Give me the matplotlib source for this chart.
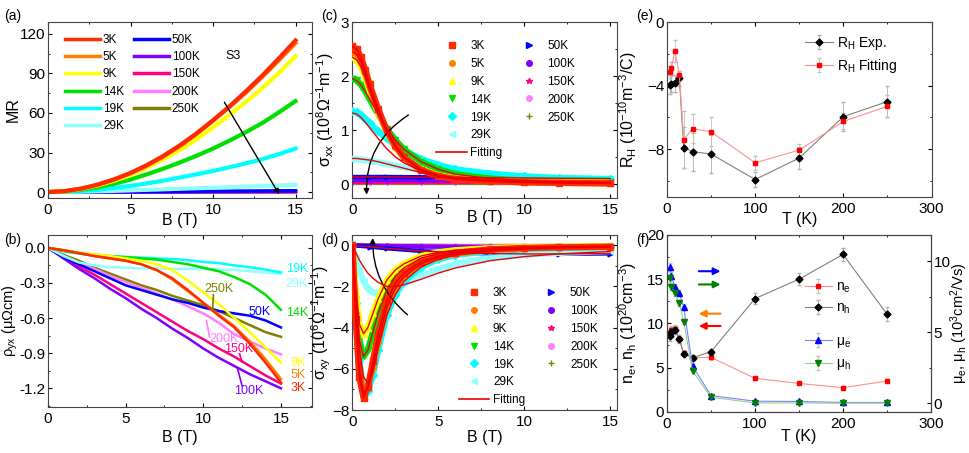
import numpy as np
import matplotlib
matplotlib.use('Agg')
import matplotlib.pyplot as plt
from matplotlib.lines import Line2D
from matplotlib.ticker import MultipleLocator

plt.rcParams['font.family'] = ['Liberation Sans', 'DejaVu Sans']
plt.rcParams['mathtext.fontset'] = 'custom'
plt.rcParams['mathtext.rm'] = 'Liberation Sans'
plt.rcParams['mathtext.it'] = 'Liberation Sans:italic'
plt.rcParams['mathtext.default'] = 'regular'

temps = ['3K', '5K', '9K', '14K', '19K', '29K', '50K', '100K', '150K', '200K', '250K']
colors = ['#ff2a00', '#ff8000', '#ffff00', '#00e000', '#00ffff', '#90ffff',
          '#0000ff', '#8000ff', '#ff0080', '#ff80ff', '#808000']
markers = ['s', 'o', '^', 'v', 'D', '<', '>', 'o', '*', 'o', '+']

# (a) MR vs B
B_a = [0, 1, 2, 3, 4, 5, 6, 7, 8, 9, 10, 11, 12, 13, 14, 15]
mr = {
    '3K': [0, 0.7, 2.6, 5.6, 9.6, 14.5, 20.5, 27.5, 35.5, 44.5, 54.5, 65, 76.5, 88.5, 101.5, 115],
    '5K': [0, 0.7, 2.6, 5.5, 9.4, 14.2, 20, 27, 35, 44, 54, 64.5, 75.5, 87.5, 100, 113],
    '9K': [0, 0.6, 2.3, 5, 8.6, 13, 18.5, 25, 32, 40, 49, 58.5, 68.5, 79, 90.5, 103],
    '14K': [0, 0.5, 1.7, 3.6, 6.2, 9.5, 13.5, 17.8, 22.5, 27.5, 33, 39, 45.5, 52.5, 60.5, 69],
    '19K': [0, 0.2, 0.8, 1.8, 3.1, 4.7, 6.6, 8.7, 11, 13.5, 16, 18.8, 21.8, 25, 28.8, 33],
    '29K': [0, 0.1, 0.3, 0.6, 0.9, 1.3, 1.7, 2.1, 2.5, 2.9, 3.3, 3.7, 4.1, 4.6, 5, 5.5],
}
B_a_hi = [0, 5, 10, 15]
mr_hi = {
    '50K': [0, 0.25, 0.55, 1.0],
    '100K': [0, 0.1, 0.3, 0.5],
    '150K': [0, 0.08, 0.2, 0.3],
    '200K': [0, 0.05, 0.12, 0.2],
    '250K': [0, 0.03, 0.06, 0.1],
}

# (b) rho_yx vs B
B_b = [0, 1, 2, 3, 4, 5, 6, 7, 8, 9, 10, 11, 12, 13, 14, 15]
rho = {
    '3K': [0, -0.02, -0.045, -0.07, -0.09, -0.11, -0.14, -0.19, -0.26, -0.36, -0.47, -0.58, -0.68, -0.82, -0.98, -1.15],
    '5K': [0, -0.02, -0.045, -0.07, -0.09, -0.11, -0.14, -0.19, -0.27, -0.37, -0.47, -0.57, -0.67, -0.8, -0.95, -1.12],
    '9K': [0, -0.02, -0.04, -0.055, -0.07, -0.09, -0.11, -0.14, -0.19, -0.28, -0.38, -0.48, -0.6, -0.72, -0.85, -0.98],
    '14K': [0, -0.025, -0.045, -0.06, -0.07, -0.08, -0.09, -0.1, -0.12, -0.14, -0.17, -0.2, -0.25, -0.31, -0.4, -0.53],
    '19K': [0, -0.03, -0.05, -0.065, -0.072, -0.077, -0.083, -0.09, -0.095, -0.105, -0.12, -0.13, -0.15, -0.165, -0.185, -0.21],
    '29K': [0, -0.07, -0.125, -0.15, -0.165, -0.17, -0.175, -0.175, -0.18, -0.18, -0.18, -0.185, -0.19, -0.2, -0.21, -0.22],
    '50K': [0, -0.08, -0.14, -0.2, -0.26, -0.32, -0.36, -0.4, -0.44, -0.47, -0.51, -0.54, -0.56, -0.58, -0.62, -0.68],
    '100K': [0, -0.09, -0.18, -0.26, -0.35, -0.43, -0.52, -0.6, -0.69, -0.77, -0.86, -0.94, -1.01, -1.08, -1.14, -1.2],
    '150K': [0, -0.08, -0.16, -0.23, -0.31, -0.39, -0.47, -0.55, -0.63, -0.71, -0.78, -0.86, -0.93, -1.01, -1.09, -1.16],
    '200K': [0, -0.07, -0.13, -0.18, -0.24, -0.29, -0.34, -0.39, -0.44, -0.5, -0.56, -0.64, -0.74, -0.8, -0.86, -0.91],
    '250K': [0, -0.06, -0.11, -0.17, -0.22, -0.27, -0.32, -0.36, -0.41, -0.45, -0.49, -0.54, -0.6, -0.66, -0.72, -0.76],
}

# (c) sigma_xx vs B
B_c = [0, 0.25, 0.5, 0.75, 1, 1.5, 2, 2.5, 3, 4, 5, 6, 8, 10, 12, 15]
sxx = {
    '3K': [2.55, 2.5, 2.35, 2.12, 1.85, 1.4, 1.0, 0.72, 0.5, 0.27, 0.15, 0.1, 0.06, 0.04, 0.03, 0.02],
    '5K': [2.45, 2.4, 2.27, 2.05, 1.8, 1.36, 0.98, 0.7, 0.5, 0.27, 0.16, 0.1, 0.06, 0.04, 0.03, 0.02],
    '9K': [2.35, 2.3, 2.18, 1.98, 1.75, 1.33, 0.97, 0.7, 0.5, 0.28, 0.17, 0.11, 0.07, 0.05, 0.04, 0.03],
    '14K': [1.95, 1.92, 1.84, 1.72, 1.58, 1.3, 1.03, 0.82, 0.65, 0.42, 0.28, 0.19, 0.11, 0.07, 0.05, 0.04],
    '19K': [1.35, 1.33, 1.28, 1.21, 1.13, 0.98, 0.85, 0.73, 0.63, 0.47, 0.36, 0.28, 0.2, 0.15, 0.12, 0.1],
    '29K': [0.47, 0.47, 0.46, 0.45, 0.44, 0.41, 0.38, 0.35, 0.32, 0.27, 0.23, 0.2, 0.16, 0.13, 0.11, 0.1],
}
sxx_fit = {
    '19K': [1.32, 1.3, 1.24, 1.15, 1.05, 0.85, 0.66, 0.51, 0.4, 0.25, 0.17, 0.12, 0.07, 0.05, 0.04, 0.03],
    '29K': [0.48, 0.48, 0.47, 0.46, 0.45, 0.42, 0.38, 0.34, 0.3, 0.22, 0.16, 0.12, 0.08, 0.05, 0.04, 0.03],
}
B_hi = [0, 1, 2, 4, 6, 8, 10, 12, 15]
sxx_hi = {
    '50K': [0.14, 0.14, 0.14, 0.135, 0.13, 0.125, 0.12, 0.115, 0.11],
    '100K': [0.08, 0.08, 0.08, 0.078, 0.076, 0.074, 0.072, 0.07, 0.07],
    '150K': [0.05, 0.05, 0.05, 0.05, 0.05, 0.05, 0.05, 0.05, 0.05],
    '200K': [0.04, 0.04, 0.04, 0.04, 0.04, 0.04, 0.04, 0.04, 0.04],
    '250K': [0.03, 0.03, 0.03, 0.03, 0.03, 0.03, 0.03, 0.03, 0.03],
}

# (d) sigma_xy vs B
B_d = [0, 0.2, 0.4, 0.65, 0.9, 1.2, 1.5, 2, 2.5, 3, 4, 5, 6, 8, 10, 12, 15]
sxy = {
    '3K': [0, -3.6, -6.4, -7.4, -6.9, -5.6, -4.3, -2.7, -1.85, -1.35, -0.8, -0.52, -0.36, -0.2, -0.13, -0.1, -0.07],
    '5K': [0, -3.3, -6.0, -7.2, -6.9, -5.9, -4.7, -3.0, -2.1, -1.55, -0.9, -0.58, -0.4, -0.22, -0.14, -0.1, -0.07],
    '9K': [0, -2.3, -3.8, -4.3, -4.0, -3.3, -2.6, -1.7, -1.2, -0.9, -0.52, -0.34, -0.24, -0.14, -0.09, -0.07, -0.05],
    '14K': [0, -2.6, -4.6, -5.4, -5.1, -4.2, -3.3, -2.2, -1.5, -1.1, -0.62, -0.4, -0.28, -0.16, -0.11, -0.08, -0.06],
    '19K': [0, -2.8, -5.6, -7.0, -7.1, -6.3, -5.1, -3.4, -2.4, -1.75, -1.05, -0.68, -0.47, -0.27, -0.18, -0.13, -0.09],
    '29K': [0, -0.6, -1.2, -1.75, -2.1, -2.3, -2.3, -2.25, -2.05, -1.85, -1.45, -1.15, -0.9, -0.62, -0.46, -0.37, -0.28],
}
sxy_fit = {
    '19K': [0, -2.5, -5.0, -6.4, -6.7, -6.1, -5.0, -3.4, -2.4, -1.75, -1.05, -0.68, -0.47, -0.27, -0.18, -0.13, -0.09],
    '29K': [0, -0.35, -0.7, -1.05, -1.35, -1.6, -1.8, -2.0, -2.0, -1.92, -1.65, -1.35, -1.1, -0.75, -0.55, -0.42, -0.3],
}
sxy_hi = {
    '50K': [0, -0.07, -0.15, -0.28, -0.35, -0.4, -0.42, -0.42, -0.4],
    '100K': [0, -0.02, -0.04, -0.06, -0.08, -0.09, -0.1, -0.1, -0.1],
    '150K': [0, -0.02, -0.03, -0.05, -0.06, -0.07, -0.07, -0.07, -0.07],
    '200K': [0, -0.01, -0.02, -0.03, -0.04, -0.04, -0.05, -0.05, -0.05],
    '250K': [0, -0.01, -0.02, -0.02, -0.03, -0.03, -0.03, -0.03, -0.03],
}

# (e), (f) vs T
T = [3, 5, 9, 14, 19, 29, 50, 100, 150, 200, 250]
RH_exp = [-3.95, -3.9, -3.85, -3.55, -7.9, -8.15, -8.3, -9.9, -8.55, -5.95, -5.0]
RH_exp_err = [0.6, 0.5, 0.55, 0.5, 1.3, 1.2, 1.2, 0.5, 0.7, 0.9, 1.0]
RH_fit = [-3.15, -2.9, -1.8, -3.35, -7.4, -6.7, -6.9, -8.85, -8.05, -6.25, -5.3]
RH_fit_err = [0.4, 0.4, 0.7, 0.3, 1.8, 0.9, 0.9, 0.45, 0.4, 0.5, 0.7]
n_e = [8.8, 9.25, 9.35, 8.25, 6.6, 6.1, 6.15, 3.78, 3.2, 2.72, 3.47]
n_e_err = [0.5, 0.5, 0.5, 0.4, 0.3, 0.3, 0.3, 0.2, 0.2, 0.2, 0.2]
n_h = [8.55, 9.05, 9.25, 8.2, 6.55, 6.1, 6.8, 12.8, 15.0, 17.8, 11.05]
n_h_err = [0.5, 0.5, 0.5, 0.4, 0.3, 0.3, 0.3, 0.6, 0.7, 0.75, 0.8]
mu_e = [9.6, 8.98, 8.2, 7.76, 6.77, 2.63, 0.54, 0.14, 0.12, 0.05, 0.05]
mu_e_err = [0.3, 0.25, 0.2, 0.2, 0.2, 0.1, 0.1, 0.05, 0.05, 0.05, 0.05]
mu_h = [8.82, 8.23, 7.76, 7.06, 5.76, 2.28, 0.42, 0.02, 0.02, 0.0, 0.0]
mu_h_err = [0.3, 0.25, 0.2, 0.2, 0.2, 0.1, 0.1, 0.05, 0.05, 0.05, 0.05]

col = dict(zip(temps, colors))
mk = dict(zip(temps, markers))

fig = plt.figure(figsize=(9.69, 4.53), dpi=100)
W, H = 969.0, 453.0
LFS = 11.5


def box(l, t, r, b):
    return [l / W, (H - b) / H, (r - l) / W, (b - t) / H]


def style(ax):
    ax.tick_params(direction='in', which='both', top=True, right=True, labelsize=11)
    ax.tick_params(axis='y', pad=2)
    ax.tick_params(which='major', length=3)
    ax.tick_params(which='minor', length=1.5)
    for s in ax.spines.values():
        s.set_color('#444444')
        s.set_linewidth(0.8)


# ---------- (a)
ax = fig.add_axes(box(48, 22, 312, 198))
style(ax)
for t in ['250K', '200K', '150K', '100K', '50K']:
    ax.plot(B_a_hi, mr_hi[t], color=col[t], lw=2.5)
for t in ['29K', '19K', '14K', '9K', '5K', '3K']:
    ax.plot(B_a, mr[t], color=col[t], lw=3)
ax.set_xlim(0, 16)
ax.set_ylim(-4.5, 129)
ax.xaxis.set_major_locator(MultipleLocator(5))
ax.xaxis.set_minor_locator(MultipleLocator(2.5))
ax.yaxis.set_major_locator(MultipleLocator(30))
ax.yaxis.set_minor_locator(MultipleLocator(15))
ax.set_xlabel('B (T)', fontsize=LFS)
ax.set_ylabel('MR', fontsize=LFS)
ax.xaxis.set_label_coords(0.5, -0.085)
ax.yaxis.set_label_coords(-0.105, 0.5)
hs = [Line2D([], [], color=col[t], lw=2.5) for t in temps] + [Line2D([], [], lw=0)]
ls = temps + [' ']
ax.legend(hs, ls, ncol=2, loc='upper left', bbox_to_anchor=(0.045, 0.96), frameon=False,
          fontsize=8.5, handlelength=3.0, handletextpad=0.25, labelspacing=0.45,
          columnspacing=0.8, borderaxespad=0)
ax.text(11.2, 103, 'S3', fontsize=9, ha='center', va='center')
ax.annotate('', xy=(14.1, -3.6), xytext=(10.6, 70),
            arrowprops=dict(arrowstyle='-|>', color='black', lw=1, mutation_scale=8))
fig.text(0.004, 0.955, '(a)', fontsize=10)

# ---------- (b)
ax = fig.add_axes(box(48, 235, 312, 407))
style(ax)
for t in ['250K', '200K', '150K', '100K', '50K', '29K', '19K', '14K', '9K', '5K', '3K']:
    ax.plot(B_b, rho[t], color=col[t], lw=1.8)
ax.set_xlim(0, 17)
ax.set_ylim(-1.36, 0.11)
ax.xaxis.set_major_locator(MultipleLocator(5))
ax.xaxis.set_minor_locator(MultipleLocator(2.5))
ax.yaxis.set_major_locator(MultipleLocator(0.3))
ax.yaxis.set_minor_locator(MultipleLocator(0.15))
ax.yaxis.set_major_formatter(matplotlib.ticker.FormatStrFormatter('%.1f'))
ax.set_xlabel('B (T)', fontsize=LFS)
ax.set_ylabel('$\\rho_{yx}$ (μΩcm)', fontsize=10.5)
ax.xaxis.set_label_coords(0.5, -0.135)
ax.yaxis.set_label_coords(-0.106, 0.5)
lab_b = [('19K', 15.3, -0.18), ('29K', 15.3, -0.305), ('14K', 15.3, -0.557), ('9K', 15.6, -0.985),
         ('5K', 15.6, -1.09), ('3K', 15.6, -1.195)]
for t, x, y in lab_b:
    ax.text(x, y, t, color=col[t], fontsize=9, ha='left', va='center')
ax.text(13.6, -0.548, '50K', color=col['50K'], fontsize=9, ha='center', va='center')
ax.text(11.0, -0.348, '250K', color=col['250K'], fontsize=9, ha='center', va='center')
ax.text(11.3, -0.776, '200K', color=col['200K'], fontsize=9, ha='center', va='center')
ax.text(12.3, -0.862, '150K', color=col['150K'], fontsize=9, ha='center', va='center')
ax.text(12.9, -1.225, '100K', color=col['100K'], fontsize=9, ha='center', va='center')
ax.plot([10.65, 10.6], [-0.40, -0.54], color=col['250K'], lw=1.2)
ax.plot([10.2, 10.4], [-0.62, -0.76], color=col['200K'], lw=1.2)
ax.plot([12.34, 12.5], [-0.905, -0.977], color=col['150K'], lw=1.2)
ax.plot([12.2, 12.5], [-1.03, -1.18], color=col['100K'], lw=1.2)
fig.text(0.004, 0.462, '(b)', fontsize=10)


def sigma_panel(ax, Bl, data, fits, Bh, hi):
    for t in ['250K', '200K', '150K', '100K', '50K']:
        ax.plot(Bh, hi[t], color=col[t], lw=3, marker=mk[t], ms=3.5, zorder=2)
    for t in ['29K', '19K', '14K', '9K', '5K', '3K']:
        ax.plot(Bl, data[t], color=col[t], lw=4.5, marker=mk[t], ms=4, zorder=3)
    for t in ['3K', '5K', '9K', '14K']:
        ax.plot(Bl, data[t], color='#ee0000', lw=1.0, zorder=4)
    for t in fits:
        ax.plot(Bl, fits[t], color='#ee0000', lw=1.0, zorder=4)
    ax.plot(Bh, hi['50K'], color='#ee0000', lw=1.0, zorder=4)


def sigma_legend(ax, anchor):
    hs = [Line2D([], [], color=col[t], marker=mk[t], ls='none', ms=4) for t in temps[:6]]
    hs += [Line2D([], [], color='#ee0000', lw=1.2)]
    hs += [Line2D([], [], color=col[t], marker=mk[t], ls='none', ms=4) for t in temps[6:]]
    hs += [Line2D([], [], lw=0)]
    ls = temps[:6] + ['Fitting'] + temps[6:] + [' ']
    ax.legend(hs, ls, ncol=2, loc='upper left', bbox_to_anchor=anchor, frameon=False,
              fontsize=8.5, handlelength=2.6, handletextpad=0.3, labelspacing=0.5,
              columnspacing=0.9, borderaxespad=0)


# ---------- (c)
ax = fig.add_axes(box(352, 22, 617, 198))
style(ax)
sigma_panel(ax, B_c, sxx, sxx_fit, B_hi, sxx_hi)
ax.set_xlim(-0.02, 15.4)
ax.set_ylim(-0.25, 3.0)
ax.xaxis.set_major_locator(MultipleLocator(5))
ax.xaxis.set_minor_locator(MultipleLocator(2.5))
ax.yaxis.set_major_locator(MultipleLocator(1))
ax.yaxis.set_minor_locator(MultipleLocator(0.5))
ax.set_xlabel('B (T)', fontsize=LFS)
ax.set_ylabel('$\\sigma_{xx}$ (10$^{8}$Ω$^{-1}$m$^{-1}$)', fontsize=LFS)
ax.xaxis.set_label_coords(0.5, -0.07)
ax.yaxis.set_label_coords(-0.062, 0.5)
sigma_legend(ax, (0.3, 0.925))
ax.annotate('', xy=(0.84, -0.24), xytext=(3.4, 1.31),
            arrowprops=dict(arrowstyle='-|>', color='black', lw=1, mutation_scale=8,
                            connectionstyle='arc3,rad=0.3'))
fig.text(0.331, 0.955, '(c)', fontsize=10)

# ---------- (d)
ax = fig.add_axes(box(352, 235, 617, 410))
style(ax)
sigma_panel(ax, B_d, sxy, sxy_fit, B_hi, sxy_hi)
ax.set_xlim(-0.02, 15.4)
ax.set_ylim(-8, 0.5)
ax.xaxis.set_major_locator(MultipleLocator(5))
ax.xaxis.set_minor_locator(MultipleLocator(2.5))
ax.yaxis.set_major_locator(MultipleLocator(2))
ax.yaxis.set_minor_locator(MultipleLocator(1))
ax.set_xlabel('B (T)', fontsize=LFS)
ax.set_ylabel('$\\sigma_{xy}$ (10$^{6}$Ω$^{-1}$m$^{-1}$)', fontsize=LFS)
ax.xaxis.set_label_coords(0.5, -0.115)
ax.yaxis.set_label_coords(-0.072, 0.5)
sigma_legend(ax, (0.385, 0.73))
ax.annotate('', xy=(1.19, 0.49), xytext=(3.33, -3.46),
            arrowprops=dict(arrowstyle='-|>', color='black', lw=1, mutation_scale=8,
                            connectionstyle='arc3,rad=-0.25'))
fig.text(0.331, 0.462, '(d)', fontsize=10)

# ---------- (e)
ax = fig.add_axes(box(667, 22, 931.5, 197))
style(ax)
ax.errorbar(T, RH_exp, yerr=RH_exp_err, color='#808080', lw=0.8, marker='D', ms=3.5,
            mfc='black', mec='black', ecolor='#b0b0b0', elinewidth=0.6, capsize=1.5,
            label='R$_H$ Exp.')
ax.errorbar(T, RH_fit, yerr=RH_fit_err, color='#ff9090', lw=0.8, marker='s', ms=3.5,
            mfc='#ff0000', mec='#ff0000', ecolor='#c0c0c0', elinewidth=0.6, capsize=1.5,
            label='R$_H$ Fitting')
ax.set_xlim(0, 300)
ax.set_ylim(-11, 0)
ax.xaxis.set_major_locator(MultipleLocator(100))
ax.xaxis.set_minor_locator(MultipleLocator(50))
ax.yaxis.set_major_locator(MultipleLocator(4))
ax.yaxis.set_minor_locator(MultipleLocator(2))
ax.set_xlabel('T (K)', fontsize=LFS)
ax.set_ylabel('R$_H$ (10$^{-10}$m$^{-3}$/C)', fontsize=LFS)
ax.xaxis.set_label_coords(0.5, -0.085)
ax.yaxis.set_label_coords(-0.105, 0.5)
ax.legend(loc='upper left', bbox_to_anchor=(0.5, 0.96), frameon=False, fontsize=10,
          handlelength=2.0, handletextpad=0.3, labelspacing=0.4, borderaxespad=0)
fig.text(0.656, 0.955, '(e)', fontsize=10)

# ---------- (f)
ax = fig.add_axes(box(667, 235, 931, 411.7))
style(ax)
ax.tick_params(right=False)
ax2 = ax.twinx()
style(ax2)
ax2.tick_params(left=False, right=True)
l1 = ax.errorbar(T, n_e, yerr=n_e_err, color='#ff9090', lw=0.8, marker='s', ms=3.5,
                 mfc='#ff0000', mec='#ff0000', ecolor='#c0c0c0', elinewidth=0.6, capsize=1.5,
                 label='n$_e$')
l2 = ax.errorbar(T, n_h, yerr=n_h_err, color='#808080', lw=0.8, marker='D', ms=3.5,
                 mfc='black', mec='black', ecolor='#b0b0b0', elinewidth=0.6, capsize=1.5,
                 label='n$_h$')
l3 = ax2.errorbar(T, mu_e, yerr=mu_e_err, color='#8080ff', lw=0.8, marker='^', ms=4,
                  mfc='#0000ff', mec='#0000ff', ecolor='#c0c0c0', elinewidth=0.6, capsize=1.5,
                  label='μ$_e$')
l4 = ax2.errorbar(T, mu_h, yerr=mu_h_err, color='#90d090', lw=0.8, marker='v', ms=4,
                  mfc='#008000', mec='#008000', ecolor='#c0c0c0', elinewidth=0.6, capsize=1.5,
                  label='μ$_h$')
ax.set_xlim(0, 300)
ax.set_ylim(0, 20)
ax2.set_ylim(-0.6, 11.87)
ax.xaxis.set_major_locator(MultipleLocator(100))
ax.xaxis.set_minor_locator(MultipleLocator(50))
ax.yaxis.set_major_locator(MultipleLocator(5))
ax.yaxis.set_minor_locator(MultipleLocator(2.5))
ax2.yaxis.set_major_locator(MultipleLocator(5))
ax2.yaxis.set_minor_locator(MultipleLocator(2.5))
ax.set_xlabel('T (K)', fontsize=LFS)
ax.set_ylabel('n$_e$, n$_h$ (10$^{20}$cm$^{-3}$)', fontsize=LFS)
ax2.set_ylabel('μ$_e$, μ$_h$ (10$^3$cm$^2$/Vs)', fontsize=10.5)
ax.xaxis.set_label_coords(0.5, -0.098)
ax.yaxis.set_label_coords(-0.105, 0.5)
ax2.yaxis.set_label_coords(1.066, 0.5)
ax.legend([l1, l2], ['n$_e$', 'n$_h$'], loc='upper left', bbox_to_anchor=(0.5, 0.78),
          frameon=False, fontsize=10, handlelength=2.0, handletextpad=0.3,
          labelspacing=0.45, borderaxespad=0)
ax2.legend([l3, l4], ['μ$_e$', 'μ$_h$'], loc='upper left', bbox_to_anchor=(0.5, 0.47),
           frameon=False, fontsize=10, handlelength=2.0, handletextpad=0.3,
           labelspacing=0.45, borderaxespad=0)
for y, c, d in [(15.9, '#0000ff', 1), (14.4, '#008000', 1), (11.1, '#ff8000', -1), (9.7, '#ff0000', -1)]:
    x0, x1 = (33, 64) if d > 0 else (64, 33)
    ax.annotate('', xy=(x1, y), xytext=(x0, y),
                arrowprops=dict(arrowstyle='-|>', color=c, lw=1.5, mutation_scale=10))
fig.text(0.656, 0.462, '(f)', fontsize=10)

fig.savefig('out.png', dpi=100)
